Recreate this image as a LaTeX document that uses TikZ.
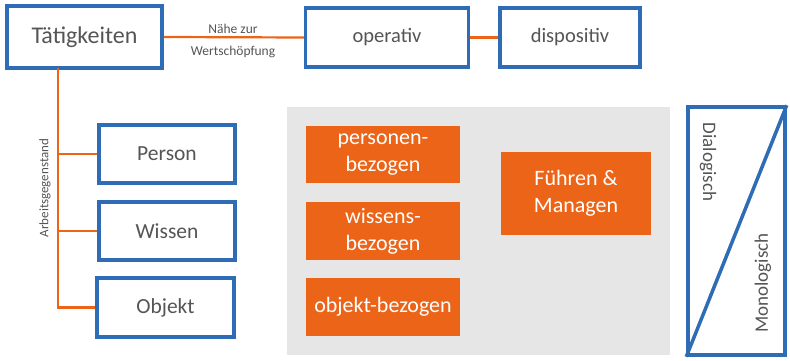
\documentclass[tikz,border=0pt]{standalone}
\usepackage{fontspec}
\setmainfont{Carlito}
\definecolor{bblue}{HTML}{2E6DB6}
\definecolor{borange}{HTML}{EB6418}
\definecolor{bgray}{HTML}{E6E6E6}
\definecolor{tgray}{HTML}{555555}
\begin{document}
\begin{tikzpicture}[x=1pt,y=-1pt,
  bluebox/.style={draw=bblue,line width=3.5pt,fill=white,text=tgray,inner sep=0pt},
  orbox/.style={fill=borange,text=white,inner sep=0pt,align=center,font=\fontsize{22}{27}\selectfont},
  conn/.style={draw=borange,line width=2.2pt},
  lbl/.style={text=tgray,inner sep=1pt}]
\useasboundingbox (0,0) rectangle (790,361);
% gray area
\fill[bgray] (287,107) rectangle (670,355);
% top row
\node[bluebox,minimum width=155pt,minimum height=62pt,font=\fontsize{24}{29}\selectfont] (tat) at (84.5,37) {Tätigkeiten};
\node[bluebox,minimum width=163pt,minimum height=59pt,font=\fontsize{20.5}{25}\selectfont] (op) at (387,37.5) {operativ};
\node[bluebox,minimum width=140pt,minimum height=59pt,font=\fontsize{20.5}{25}\selectfont] (disp) at (570,37.5) {dispositiv};
\draw[conn] (tat.east) -- (op.west);
\draw[conn] (op.east) -- (disp.west);
\node[lbl,font=\fontsize{13.5}{16}\selectfont] (nz) at (233,29) {Nähe zur};
\node[lbl,font=\fontsize{13.5}{16}\selectfont] (ws) at (233,52) {Wertschöpfung};
% left column
\node[bluebox,minimum width=136pt,minimum height=58pt,font=\fontsize{21.5}{26}\selectfont] (per) at (167,154) {Person};
\node[bluebox,minimum width=136pt,minimum height=58pt,font=\fontsize{21.5}{26}\selectfont] (wis) at (167,231) {Wissen};
\node[bluebox,minimum width=137pt,minimum height=59pt,font=\fontsize{21.5}{26}\selectfont] (obj) at (165.5,307.5) {Objekt};
\coordinate (top) at (58,68);
\coordinate (bot) at (58,307.5);
\draw[conn] (top) -- (bot) -- (obj.west);
\draw[conn] (per.west) -- (per.west -| top);
\draw[conn] (wis.west) -- (wis.west -| top);
\node[lbl,rotate=90,font=\fontsize{13}{15}\selectfont] (ag) at (45,188) {Arbeitsgegenstand};
% orange boxes
\node[orbox,minimum width=154pt,minimum height=57pt] (pb) at (383,154.5) {personen-\\bezogen};
\node[orbox,minimum width=154pt,minimum height=58pt] (wb) at (383,231) {wissens-\\bezogen};
\node[orbox,minimum width=154pt,minimum height=58pt] (ob) at (383,307) {objekt-bezogen};
\node[orbox,minimum width=150pt,minimum height=83pt] (fm) at (576,193.5) {Führen \&\\Managen};
% right box
\node[bluebox,minimum width=97pt,minimum height=248pt] (dm) at (736.5,231) {};
\draw[draw=bblue,line width=3.5pt] (dm.south west) -- (dm.north east);
\node[lbl,rotate=-90,font=\fontsize{19}{23}\selectfont] (dia) at (708,162) {Dialogisch};
\node[lbl,rotate=90,font=\fontsize{19}{23}\selectfont] (mono) at (763,283) {Monologisch};
\end{tikzpicture}
\end{document}
